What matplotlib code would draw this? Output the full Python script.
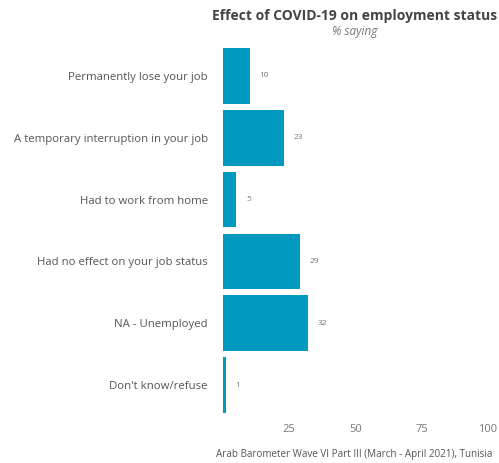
import matplotlib
matplotlib.use("Agg")
import matplotlib.pyplot as plt

# Values (% saying)
CATEGORIES = [
    "Permanently lose your job",
    "A temporary interruption in your job",
    "Had to work from home",
    "Had no effect on your job status",
    "NA - Unemployed",
    "Don't know/refuse",
]
VALUES = [10, 23, 5, 29, 32, 1]
X_TICKS = [25, 50, 75, 100]

BAR_COLOR = "#0099C0"
TEXT_COLOR = "#555555"

plt.rcParams["font.family"] = ["Open Sans", "DejaVu Sans"]

fig = plt.figure(figsize=(4.99, 4.63), dpi=100)
ax = fig.add_axes([223 / 499, 1 - 416 / 463, 265 / 499, 371 / 463])

positions = list(range(len(CATEGORIES)))
bars = ax.barh(positions, VALUES, height=0.9, color=BAR_COLOR)
ax.bar_label(bars, labels=[str(v) for v in VALUES], padding=7,
             fontsize=6, color="#777777")

ax.set_xlim(0, 100)
ax.set_ylim(len(CATEGORIES) - 0.5, -0.5)
ax.set_yticks(positions)
ax.set_yticklabels(CATEGORIES, fontsize=8.2, color=TEXT_COLOR)
ax.set_xticks(X_TICKS)
ax.set_xticklabels([str(t) for t in X_TICKS], fontsize=8, color="#777777")
ax.tick_params(axis="both", length=0)
ax.tick_params(axis="y", pad=11)
ax.tick_params(axis="x", pad=6)
for spine in ax.spines.values():
    spine.set_visible(False)

fig.text(355 / 499, 1 - 16 / 463, "Effect of COVID-19 on employment status",
         ha="center", va="center", fontsize=10, fontweight="bold", color="#444444")
fig.text(355 / 499, 1 - 31 / 463, "% saying", ha="center", va="center",
         fontsize=8.5, style="italic", color="#777777")
fig.text(216 / 499, 1 - 455 / 463,
         "Arab Barometer Wave VI Part III (March - April 2021), Tunisia",
         ha="left", va="center", fontsize=7.1, color=TEXT_COLOR)

fig.savefig("out.png", dpi=100)
